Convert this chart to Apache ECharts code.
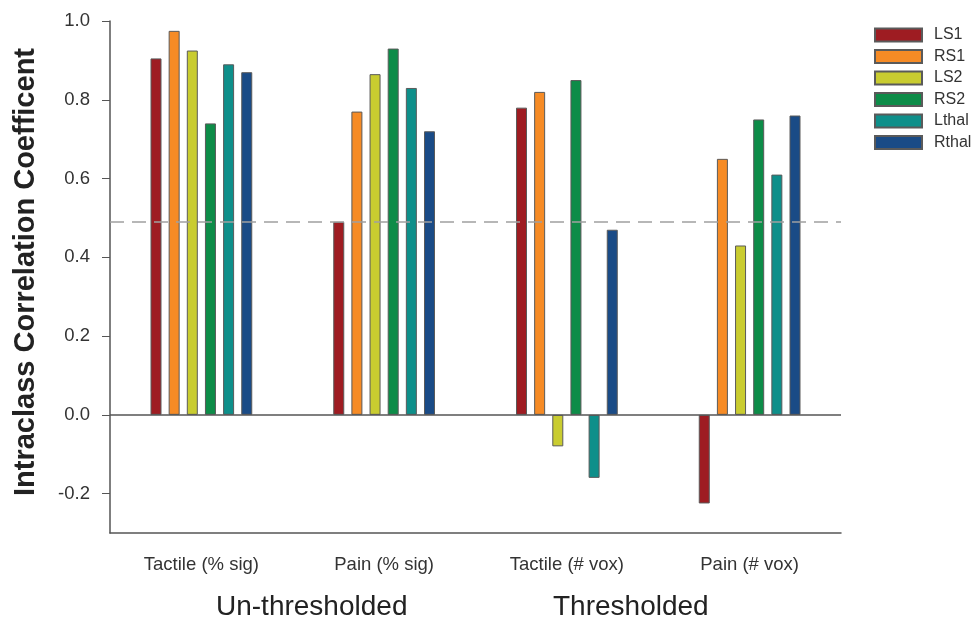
<!DOCTYPE html>
<html>
<head>
<meta charset="utf-8">
<script src="https://cdn.jsdelivr.net/npm/echarts@6/dist/echarts.min.js"></script>
<style>
  html, body { margin: 0; padding: 0; background: #fff; }
  #chart { width: 974px; height: 619px; }
</style>
</head>
<body>
<div id="chart"></div>
<script>
// Measures (x categories)
const categories = ['Tactile (% sig)', 'Pain (% sig)', 'Tactile (# vox)', 'Pain (# vox)'];

// Intraclass correlation per region of interest
const seriesNames = ['LS1', 'RS1', 'LS2', 'RS2', 'Lthal', 'Rthal'];
const LS1   = [0.905, 0.49, 0.78, -0.225];
const RS1   = [0.975, 0.77, 0.82, 0.65];
const LS2   = [0.925, 0.865, -0.08, 0.43];
const RS2   = [0.74, 0.93, 0.85, 0.75];
const Lthal = [0.89, 0.83, -0.16, 0.61];
const Rthal = [0.87, 0.72, 0.47, 0.76];
const seriesValues = [LS1, RS1, LS2, RS2, Lthal, Rthal];

// Reference threshold drawn as a dashed line
const threshold = 0.49;

// Y axis tick values
const yTicks = [-0.2, 0.0, 0.2, 0.4, 0.6, 0.8, 1.0];

// Group captions under the category labels
const groupLabels = ['Un-thresholded', 'Thresholded'];

const colors = ['#9e1c22', '#f68b25', '#c9cc30', '#0d8c48', '#0e8f8a', '#1a4b86'];
const FONT = '"Liberation Sans", Arial, sans-serif';

const chart = echarts.init(document.getElementById('chart'), null, { renderer: 'canvas' });

const series = seriesNames.map((name, i) => {
  const s = {
    name: name,
    type: 'bar',
    data: seriesValues[i],
    barWidth: 11,
    barGap: '65%',
    itemStyle: { color: colors[i], borderColor: '#5a5a5a', borderWidth: 1 },
    emphasis: { disabled: true }
  };
  if (i === 0) {
    s.markLine = {
      silent: true,
      symbol: 'none',
      label: { show: false },
      data: [
        { yAxis: threshold, lineStyle: { color: '#a0a0a0', type: [14, 8], width: 1.5 } },
        { yAxis: 0, lineStyle: { color: '#555', type: 'solid', width: 1.5 } }
      ]
    };
  }
  return s;
});

chart.setOption({
  animation: false,
  color: colors,
  grid: { left: 110, right: 133, top: 21, bottom: 86, containLabel: false },
  legend: {
    orient: 'vertical',
    left: 869,
    top: 22,
    icon: 'rect',
    itemWidth: 47,
    itemHeight: 13,
    itemGap: 5.5,
    data: seriesNames,
    textStyle: { fontFamily: FONT, fontSize: 16, color: '#333', padding: [0, 0, 0, 7] }
  },
  xAxis: {
    type: 'category',
    data: categories,
    axisLine: { onZero: false, lineStyle: { color: '#555', width: 1.5 } },
    axisTick: { alignWithLabel: true, length: 7, lineStyle: { color: '#555' } },
    axisLabel: { fontFamily: FONT, fontSize: 18.5, color: '#333', margin: 22 }
  },
  yAxis: {
    type: 'value',
    min: -0.3,
    max: 1.0,
    name: 'Intraclass Correlation Coefficent',
    nameLocation: 'middle',
    nameGap: 70,
    nameTextStyle: { fontFamily: FONT, fontSize: 29, fontWeight: 'bold', color: '#222', padding: [0, 0, 0, 10] },
    splitLine: { show: false },
    axisLine: { show: true, lineStyle: { color: '#555', width: 1.5 } },
    axisTick: { show: true, length: 8, customValues: yTicks, lineStyle: { color: '#555' } },
    axisLabel: {
      fontFamily: FONT, fontSize: 18.5, color: '#333', margin: 20,
      customValues: yTicks,
      formatter: v => v.toFixed(1)
    }
  },
  graphic: [
    { type: 'text', left: 216, top: 593, style: { text: groupLabels[0], font: '28px ' + FONT, fill: '#222' } },
    { type: 'text', left: 553, top: 593, style: { text: groupLabels[1], font: '28px ' + FONT, fill: '#222' } }
  ],
  series: series
});
</script>
</body>
</html>
